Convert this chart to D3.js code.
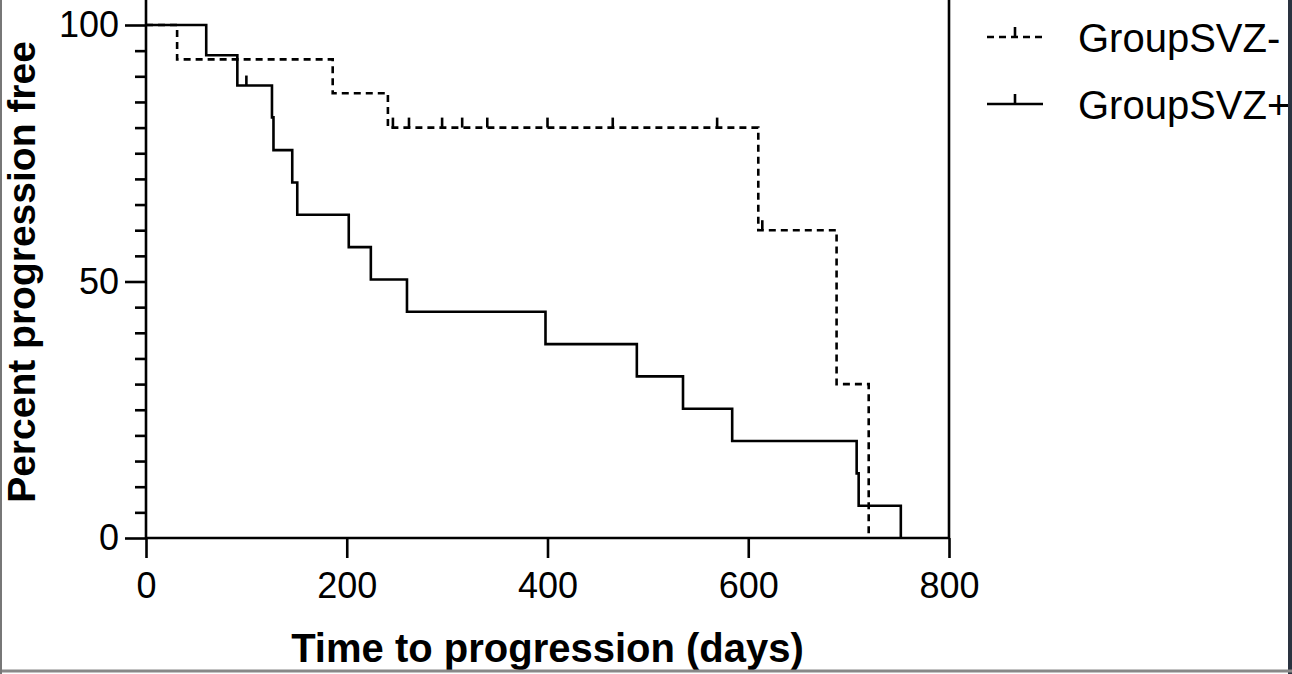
<!DOCTYPE html>
<html>
<head>
<meta charset="utf-8">
<script src="https://cdn.jsdelivr.net/npm/d3@7"></script>
<style>
  html, body { margin: 0; padding: 0; background: #fff; }
  svg { display: block; }
  text { font-family: "Liberation Sans", Arial, sans-serif; fill: #000; }
</style>
</head>
<body>
<svg id="chart" width="1292" height="674"></svg>
<script>
// ---- Data ----
const seriesNames = ["GroupSVZ-", "GroupSVZ+"];

// GroupSVZ- (dashed) Kaplan-Meier steps
const svzMinusTimes = [0, 31, 186, 241, 610, 688, 720];
const svzMinusSurv  = [100, 93.3, 86.7, 80.0, 60.0, 30.0, 0];
const svzMinusCensorTimes = [246, 262, 295, 315, 340, 400, 465, 569, 614];
const svzMinusCensorSurv  = [80, 80, 80, 80, 80, 80, 80, 80, 60];

// GroupSVZ+ (solid) Kaplan-Meier steps
const svzPlusTimes = [0, 60, 91, 125.5, 127, 145.7, 150.7, 202, 224, 260, 398, 489, 535, 584, 708, 710, 752];
const svzPlusSurv  = [100, 94.1, 88.2, 82.0, 75.6, 69.3, 63.0, 56.7, 50.4, 44.1, 37.8, 31.5, 25.2, 18.9, 12.6, 6.3, 0];
const svzPlusCensorTimes = [100];
const svzPlusCensorSurv  = [88.2];

const xTicks = [0, 200, 400, 600, 800];
const yMajorTicks = [0, 50, 100];
const yMinorTicks = [5,10,15,20,25,30,35,40,45,55,60,65,70,75,80,85,90,95];

const xTitle = "Time to progression (days)";
const yTitle = "Percent progression free";

// ---- Layout ----
const svg = d3.select("#chart");
const mLeft = 146, mRight = 949, mTop = 25, mBottom = 538;

const x = d3.scaleLinear().domain([0, 800]).range([mLeft, mRight]);
const y = d3.scaleLinear().domain([0, 100]).range([mBottom, mTop]);

const SW = 2.6;
const FONT = '"Liberation Sans", Arial, sans-serif';

// frame right line going above the 100 level
svg.append("line").attr("x1", mRight).attr("x2", mRight).attr("y1", 0).attr("y2", mBottom)
  .attr("stroke", "#000").attr("stroke-width", SW);

// X axis
const xAxis = d3.axisBottom(x).tickValues(xTicks).tickSize(20).tickPadding(14).tickFormat(d3.format("d"));
const gx = svg.append("g").attr("transform", `translate(0,${mBottom})`).call(xAxis);
gx.select(".domain").attr("stroke-width", SW).attr("d", `M${mLeft},0H${mRight}`);
gx.selectAll(".tick line").attr("stroke-width", SW);
gx.selectAll(".tick text").style("font-size", "36px").style("font-family", FONT);

// Y axis
const yAxis = d3.axisLeft(y).tickValues(yMajorTicks).tickSize(21).tickPadding(6).tickFormat(d3.format("d"));
const gy = svg.append("g").attr("transform", `translate(${mLeft},0)`).call(yAxis);
gy.select(".domain").attr("stroke-width", SW).attr("d", `M0,${mBottom}V0`);
gy.selectAll(".tick line").attr("stroke-width", SW);
gy.selectAll(".tick text").style("font-size", "36px").style("font-family", FONT);

const yMinor = d3.axisLeft(y).tickValues(yMinorTicks).tickSize(11).tickFormat("");
const gym = svg.append("g").attr("transform", `translate(${mLeft},0)`).call(yMinor);
gym.select(".domain").remove();
gym.selectAll(".tick line").attr("stroke-width", SW);

// Titles
svg.append("text").attr("x", (mLeft + mRight) / 2).attr("y", 662)
  .attr("text-anchor", "middle").style("font-size", "40px").style("font-weight", "bold")
  .text(xTitle);
svg.append("text").attr("transform", "translate(35,272) rotate(-90)")
  .attr("text-anchor", "middle").style("font-size", "39px").style("font-weight", "bold")
  .text(yTitle);

// ---- Curves ----
const line = d3.line().x(d => x(d[0])).y(d => y(d[1])).curve(d3.curveStepAfter);

function kmPoints(times, surv) {
  return times.map((t, i) => [t, surv[i]]);
}

const dash = "7,5";
const minusPts = kmPoints(svzMinusTimes, svzMinusSurv);
svg.append("path").attr("d", line(minusPts)).attr("fill", "none")
  .attr("stroke", "#000").attr("stroke-width", SW).attr("stroke-dasharray", dash);

const plusPts = kmPoints(svzPlusTimes, svzPlusSurv);
svg.append("path").attr("d", line(plusPts)).attr("fill", "none")
  .attr("stroke", "#000").attr("stroke-width", SW);

// censor ticks
const tickLen = 10;
svg.append("g").selectAll("line").data(kmPoints(svzMinusCensorTimes, svzMinusCensorSurv))
  .join("line")
  .attr("x1", d => x(d[0])).attr("x2", d => x(d[0]))
  .attr("y1", d => y(d[1])).attr("y2", d => y(d[1]) - tickLen)
  .attr("stroke", "#000").attr("stroke-width", SW);
svg.append("g").selectAll("line").data(kmPoints(svzPlusCensorTimes, svzPlusCensorSurv))
  .join("line")
  .attr("x1", d => x(d[0])).attr("x2", d => x(d[0]))
  .attr("y1", d => y(d[1])).attr("y2", d => y(d[1]) - tickLen)
  .attr("stroke", "#000").attr("stroke-width", SW);

// ---- Legend ----
const legend = svg.append("g");
const legendRows = [
  { name: seriesNames[0], dash: dash, ly: 37 },
  { name: seriesNames[1], dash: null, ly: 104 }
];
legendRows.forEach(r => {
  legend.append("line").attr("x1", 987).attr("x2", 1043).attr("y1", r.ly).attr("y2", r.ly)
    .attr("stroke", "#000").attr("stroke-width", SW)
    .attr("stroke-dasharray", r.dash);
  legend.append("line").attr("x1", 1015).attr("x2", 1015).attr("y1", r.ly).attr("y2", r.ly - tickLen)
    .attr("stroke", "#000").attr("stroke-width", SW);
  legend.append("text").attr("x", 1078).attr("y", r.ly + 15)
    .style("font-size", "40px").text(r.name);
});

// screenshot border
svg.append("line").attr("x1", 1290).attr("x2", 1290).attr("y1", 0).attr("y2", 674)
  .attr("stroke", "#2a3340").attr("stroke-width", 4);
svg.append("line").attr("x1", 0).attr("x2", 1292).attr("y1", 671).attr("y2", 671)
  .attr("stroke", "#888").attr("stroke-width", 3);
svg.append("line").attr("x1", 1).attr("x2", 1).attr("y1", 0).attr("y2", 674)
  .attr("stroke", "#777").attr("stroke-width", 2);
</script>
</body>
</html>
